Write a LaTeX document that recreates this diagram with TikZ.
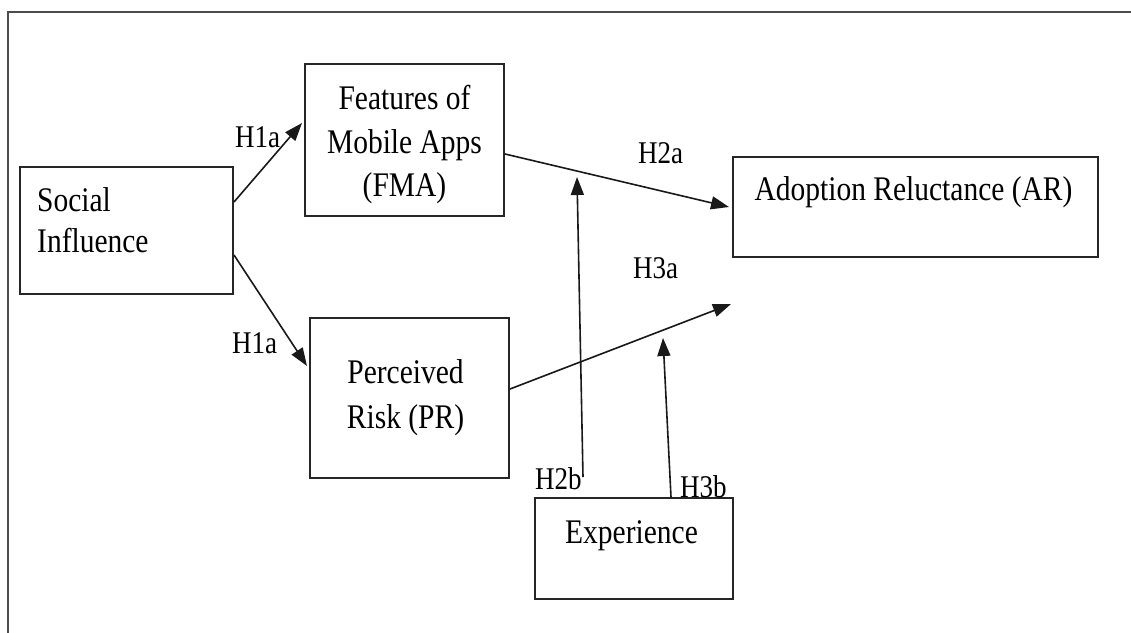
\documentclass[tikz,border=0pt]{standalone}
\usepackage{fontspec}
\setmainfont{Liberation Serif}
\newfontfamily\tnr[FakeStretch=0.855]{Liberation Serif}
\usetikzlibrary{arrows.meta,calc}
\begin{document}
\begin{tikzpicture}[x=1pt,y=-1pt,
 box/.style={draw=black!85,line width=2pt,inner sep=0pt},
 txt/.style={inner sep=0pt,font=\tnr\fontsize{34.5}{44}\selectfont},
 lbl/.style={inner sep=0pt,anchor=base west,font=\tnr\fontsize{31.6}{38}\selectfont},
 conn/.style={line width=1.6pt,draw=black!90,-{Triangle[length=18pt,width=13pt]}}]
\useasboundingbox (0,0) rectangle (1131,632);
% outer frame
\draw[draw=black!70,line width=2.6pt] (8,640) -- (8,12) -- (1140,12);
% boxes
\node[box,minimum width=213pt,minimum height=127pt] (soc) at (126.5,230.5) {};
\node[box,minimum width=199pt,minimum height=152pt] (fma) at (404.5,140) {};
\node[box,minimum width=365pt,minimum height=100pt] (ar) at (915.5,207) {};
\node[box,minimum width=199pt,minimum height=160pt] (pr) at (409.5,398) {};
\node[box,minimum width=198pt,minimum height=101pt] (exp) at (634,548.5) {};
% texts
\node[txt,anchor=base west] (soc1) at (37,211) {Social};
\node[txt,anchor=base west] (soc2) at (37,252) {Influence};
\node[txt,anchor=base] (fma1) at (404.5,109) {Features of};
\node[txt,anchor=base] (fma2) at (404.5,153) {Mobile Apps};
\node[txt,anchor=base] (fma3) at (404.5,196) {(FMA)};
\node[txt,anchor=base] (ar1) at (913.5,200) {Adoption Reluctance (AR)};
\node[txt,anchor=base] (pr1) at (405.5,383) {Perceived};
\node[txt,anchor=base] (pr2) at (405.5,428) {Risk (PR)};
\node[txt,anchor=base] (exp1) at (631.5,543) {Experience};
% labels
\node[lbl] (l1) at (235,147) {H1a};
\node[lbl] (l2) at (232,353) {H1a};
\node[lbl] (l3) at (638,163) {H2a};
\node[lbl] (l4) at (633,278) {H3a};
\node[lbl] (l5) at (535,489) {H2b};
\node[lbl] (l6) at (680,497) {H3b};
% free ends
\coordinate (h2btop) at (577,177);
\coordinate (h2bbot) at (583,477);
\coordinate (h3aend) at (731,304);
\coordinate (h3btop) at (663,338);
% connectors
\draw[conn] ([yshift=-36pt]soc.north east) -- ([xshift=-2pt,yshift=-60pt]fma.north west);
\draw[conn] ([yshift=-89pt]soc.north east) -- ([xshift=-2pt,yshift=-49pt]pr.north west);
\draw[conn] ([yshift=-91pt]fma.north east) -- ([xshift=-3pt]ar.west);
\draw[conn] ([yshift=-72pt]pr.north east) -- (h3aend);
\draw[conn] (h2bbot) -- (h2btop);
\draw[conn] ([xshift=37pt]exp.north) -- (h3btop);
\end{tikzpicture}
\end{document}
